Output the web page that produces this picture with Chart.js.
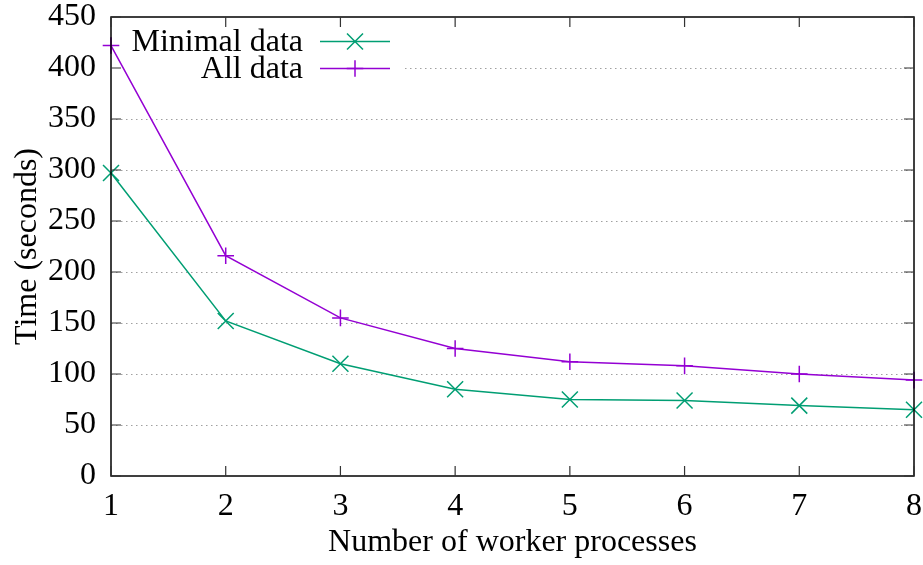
<!DOCTYPE html>
<html>
<head>
<meta charset="utf-8">
<script src="https://cdn.jsdelivr.net/npm/chart.js@4"></script>
<style>
  html, body { margin: 0; padding: 0; background: #ffffff; }
  #wrap { width: 923px; height: 565px; position: relative; }
</style>
</head>
<body>
<div id="wrap"><canvas id="c" width="923" height="565"></canvas></div>
<script>
// ---- data ----
const workers = [1, 2, 3, 4, 5, 6, 7, 8];
const minimalData = [297, 152, 110, 85, 75, 74, 69, 65];
const allData = [422, 216, 155, 125, 112, 108, 100, 94];
const seriesLabels = ['Minimal data', 'All data'];
const yTicks = [0, 50, 100, 150, 200, 250, 300, 350, 400, 450];
const xTitle = 'Number of worker processes';
const yTitle = 'Time (seconds)';

const FONT = 'Liberation Serif, Times New Roman, serif';
const GREEN = '#009e73';
const PURPLE = '#9400d3';

function pts(xs, ys) { return xs.map((x, i) => ({ x: x, y: ys[i] })); }

const decorPlugin = {
  id: 'gpDecor',
  beforeDatasetsDraw(chart) {
    const ctx = chart.ctx, a = chart.chartArea, ys = chart.scales.y;
    ctx.save();
    ctx.strokeStyle = '#a0a0a0';
    ctx.lineWidth = 1;
    ctx.setLineDash([1.5, 3.5]);
    yTicks.forEach(v => {
      if (v <= yTicks[0] || v >= yTicks[yTicks.length - 1]) return;
      const py = Math.round(ys.getPixelForValue(v)) + 0.5;
      let x0 = a.left;
      if (py < 90) x0 = 405; // key box blanks the grid
      ctx.beginPath();
      ctx.moveTo(x0, py);
      ctx.lineTo(a.right, py);
      ctx.stroke();
    });
    ctx.restore();
  },
  afterDatasetsDraw(chart) {
    const ctx = chart.ctx, a = chart.chartArea;
    const xs = chart.scales.x, ys = chart.scales.y;
    ctx.save();
    ctx.strokeStyle = '#000';
    ctx.lineWidth = 1.5;
    ctx.setLineDash([]);
    ctx.strokeRect(a.left, a.top, a.right - a.left, a.bottom - a.top);
    ctx.lineWidth = 1.2;
    ctx.strokeStyle = '#333';
    const TL = 10;
    workers.forEach(v => {
      const px = xs.getPixelForValue(v);
      ctx.beginPath();
      ctx.moveTo(px, a.bottom); ctx.lineTo(px, a.bottom - TL);
      ctx.moveTo(px, a.top); ctx.lineTo(px, a.top + TL);
      ctx.stroke();
    });
    yTicks.forEach(v => {
      const py = ys.getPixelForValue(v);
      ctx.beginPath();
      ctx.moveTo(a.left, py); ctx.lineTo(a.left + TL, py);
      ctx.moveTo(a.right, py); ctx.lineTo(a.right - TL, py);
      ctx.stroke();
    });
    // key
    ctx.font = '32px ' + FONT;
    ctx.textAlign = 'right';
    ctx.textBaseline = 'middle';
    ctx.fillStyle = '#000';
    const rows = [41.5, 68.5];
    chart.data.datasets.forEach((ds, i) => {
      const y = rows[i];
      ctx.fillText(ds.label, 303, y + 1);
      ctx.strokeStyle = ds.borderColor;
      ctx.lineWidth = 1.5;
      ctx.beginPath();
      ctx.moveTo(320, y); ctx.lineTo(390, y);
      ctx.stroke();
      const r = ds.pointRadius, cx = 355;
      ctx.beginPath();
      if (ds.pointStyle === 'crossRot') {
        const d = r * 0.7071;
        ctx.moveTo(cx - d, y - d); ctx.lineTo(cx + d, y + d);
        ctx.moveTo(cx - d, y + d); ctx.lineTo(cx + d, y - d);
      } else {
        ctx.moveTo(cx - r, y); ctx.lineTo(cx + r, y);
        ctx.moveTo(cx, y - r); ctx.lineTo(cx, y + r);
      }
      ctx.stroke();
    });
    ctx.restore();
  }
};

new Chart(document.getElementById('c'), {
  type: 'line',
  data: {
    datasets: [
      {
        label: seriesLabels[0],
        data: pts(workers, minimalData),
        borderColor: GREEN,
        backgroundColor: GREEN,
        borderWidth: 1.5,
        pointStyle: 'crossRot',
        pointRadius: 11.3,
        pointBorderWidth: 1.5,
        pointBorderColor: GREEN,
        tension: 0,
        clip: false
      },
      {
        label: seriesLabels[1],
        data: pts(workers, allData),
        borderColor: PURPLE,
        backgroundColor: PURPLE,
        borderWidth: 1.5,
        pointStyle: 'cross',
        pointRadius: 8.3,
        pointBorderWidth: 1.5,
        pointBorderColor: PURPLE,
        tension: 0,
        clip: false
      }
    ]
  },
  options: {
    responsive: false,
    animation: false,
    events: [],
    layout: { autoPadding: false, padding: { top: 17, right: 9, left: 0, bottom: 0 } },
    plugins: { legend: { display: false }, tooltip: { enabled: false } },
    scales: {
      x: {
        type: 'linear',
        min: workers[0],
        max: workers[workers.length - 1],
        afterBuildTicks: s => { s.ticks = workers.map(v => ({ value: v })); },
        afterFit: s => { s.height = 89; s.paddingLeft = 0; s.paddingRight = 0; },
        grid: { display: false, drawTicks: false },
        border: { display: false },
        ticks: { color: '#000', font: { family: FONT, size: 32, lineHeight: 1 }, padding: 15, maxRotation: 0, autoSkip: false },
        title: { display: true, text: xTitle, color: '#000', font: { family: FONT, size: 32, lineHeight: 1 }, padding: { top: 0, bottom: 6 } }
      },
      y: {
        type: 'linear',
        min: yTicks[0],
        max: yTicks[yTicks.length - 1],
        afterBuildTicks: s => { s.ticks = yTicks.map(v => ({ value: v })); },
        afterFit: s => { s.width = 111; s.paddingTop = 0; s.paddingBottom = 0; },
        grid: { display: false, drawTicks: false },
        border: { display: false },
        ticks: { color: '#000', font: { family: FONT, size: 32, lineHeight: 1 }, padding: 15, autoSkip: false },
        title: { display: true, text: yTitle, color: '#000', font: { family: FONT, size: 32, lineHeight: 1 }, padding: { top: 12, bottom: 0 } }
      }
    }
  },
  plugins: [decorPlugin]
});
</script>
</body>
</html>
